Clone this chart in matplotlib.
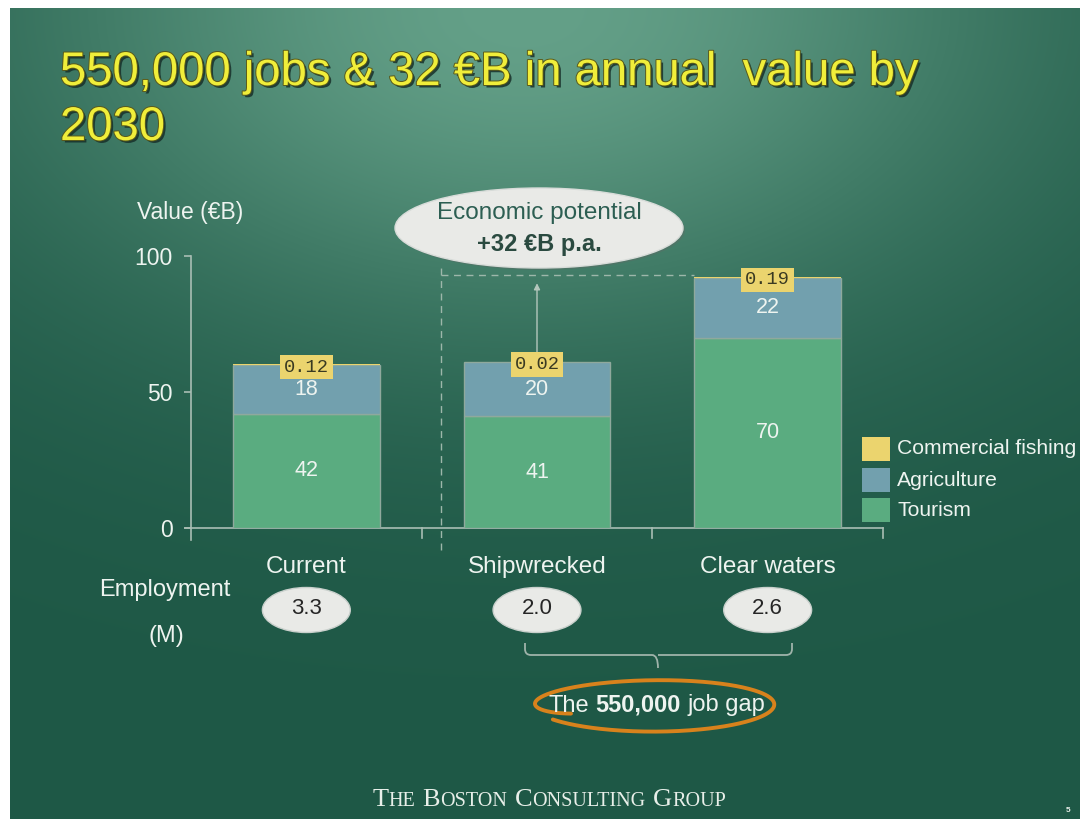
import numpy as np
import matplotlib
matplotlib.use('Agg')
import matplotlib.pyplot as plt
from matplotlib.patches import Ellipse, Rectangle
from matplotlib.path import Path
from matplotlib.patches import PathPatch
import matplotlib.patheffects as pe
import matplotlib.transforms as mtransforms
from matplotlib.offsetbox import TextArea, HPacker, AnnotationBbox

# ---------------- data ----------------
categories = ['Current', 'Shipwrecked', 'Clear waters']
tourism = [42, 41, 70]
agriculture = [18, 20, 22]
fishing = [0.12, 0.02, 0.19]
employment = [3.3, 2.0, 2.6]
yticks = [0, 50, 100]
series_names = ['Commercial fishing', 'Agriculture', 'Tourism']

title_lines = ['550,000 jobs & 32 \u20acB in annual  value by', '2030']

# ---------------- style ----------------
FONT = 'Liberation Sans'
plt.rcParams['font.family'] = [FONT, 'DejaVu Sans']
C_TOUR = '#5aac80'
C_AGRI = '#72a0ae'
C_FISH = '#ebd46e'
C_EDGE = '#8fa99d'
C_TXT = '#eef4f0'
C_AXIS = '#a9beb4'

W, H = 1080, 819
fig = plt.figure(figsize=(W / 100, H / 100), dpi=100)
fig.patch.set_facecolor('white')

# background gradient (slide)
bg = fig.add_axes([0, 0, 1, 1], zorder=0)
bg.set_axis_off()
nx, ny = 540, 410
xx, yy = np.meshgrid(np.linspace(0, 1, nx), np.linspace(0, 1, ny))
w = np.exp(-((xx - 0.48) / 0.48) ** 2 - (yy / 0.40) ** 2)
D = np.array([30, 88, 70]) / 255
L = np.array([100, 160, 136]) / 255
img = D + w[..., None] * (L - D)
bg.imshow(img, extent=[10, W, H, 8], aspect='auto', origin='upper', interpolation='bilinear')
bg.set_xlim(0, W)
bg.set_ylim(H, 0)

# overlay axes in pixel coordinates (y downwards)
ov = fig.add_axes([0, 0, 1, 1], zorder=3)
ov.set_xlim(0, W)
ov.set_ylim(H, 0)
ov.set_axis_off()
ov.patch.set_alpha(0)

# main chart axes
ax = fig.add_axes([191 / W, 1 - 528 / H, (883 - 191) / W, 272 / H], zorder=2)
ax.patch.set_alpha(0)
x = np.arange(len(categories))
ax.set_xlim(-0.5, len(categories) - 0.5)
ax.set_ylim(0, 100)
for s in ax.spines.values():
    s.set_visible(False)

bw = 0.636
tour = np.array(tourism, dtype=float)
agri = np.array(agriculture, dtype=float)
fish = np.array(fishing, dtype=float)
ax.bar(x, tour, width=bw, color=C_TOUR, edgecolor=C_EDGE, linewidth=1, zorder=3)
ax.bar(x, agri, bottom=tour, width=bw, color=C_AGRI, edgecolor=C_EDGE, linewidth=1, zorder=3)
ax.bar(x, fish, bottom=tour + agri, width=bw, color=C_FISH, edgecolor='none', zorder=3)

# axis lines drawn by hand (extend slightly outside)
ax.plot([-0.5, -0.5], [-4.4, 100], color=C_AXIS, lw=1.2, clip_on=False, zorder=2)
ax.plot([-0.526, 2.5], [0, 0], color=C_AXIS, lw=1.2, clip_on=False, zorder=2)
for xt in [0.5, 1.5, 2.5]:
    ax.plot([xt, xt], [0, -3.5], color=C_AXIS, lw=1.2, clip_on=False, zorder=2)
ax.set_xticks([])
ax.set_yticks(yticks)
ax.set_yticklabels([str(v) for v in yticks])
ax.tick_params(axis='y', length=5, width=1.2, color=C_AXIS, labelcolor=C_TXT,
               labelsize=16.5, pad=8)

# segment labels
for i in range(len(categories)):
    ax.text(x[i], tour[i] / 2, f'{tourism[i]:g}', ha='center', va='center',
            color=C_TXT, fontsize=15.5, zorder=5)
    ax.text(x[i], tour[i] + agri[i] / 2, f'{agriculture[i]:g}', ha='center', va='center',
            color=C_TXT, fontsize=15.5, zorder=5)
    top = tour[i] + agri[i] + fish[i]
    ax.text(x[i], top - 1, f'{fishing[i]:.2f}', ha='center', va='center',
            color='#3a3a22', fontsize=13.5, family='Liberation Mono', zorder=6,
            bbox=dict(boxstyle='square,pad=0.2', fc=C_FISH, ec='none'))

# dashed guide lines and growth arrow
xd = -0.5 + (441 - 191) / ((883 - 191) / 3)
ax.plot([xd, xd], [-8, 97.5], color='#9db7aa', lw=1, ls=(0, (5, 4)), clip_on=False, zorder=1)
ax.plot([xd, x[2] - bw / 2], [93, 93], color='#9db7aa', lw=1, ls=(0, (5, 4)), clip_on=False, zorder=1)
tot = tour + agri + fish
ax.annotate('', xy=(x[1], 91), xytext=(x[1], tot[1] + 0.5),
            arrowprops=dict(arrowstyle='-|>', color='#b4c7bd', lw=1, mutation_scale=9),
            zorder=4)

# y axis title
ov.text(137, 213, 'Value (\u20acB)', ha='left', va='center', color=C_TXT, fontsize=16.5)

# economic potential bubble
ov.add_patch(Ellipse((541, 230), 288, 80, fc='#5a6e66', ec='none', alpha=0.5, zorder=1))
ov.add_patch(Ellipse((539, 228), 288, 80, fc='#e9eae7', ec='#d8dcd9', lw=1, zorder=2))
ov.text(539, 213, 'Economic potential', ha='center', va='center', color='#2c5e52',
        fontsize=17.5, zorder=3)
ov.text(539, 244, '+32 \u20acB p.a.', ha='center', va='center', color='#2a4a40',
        fontsize=17, fontweight='bold', zorder=3)

# title
shadow = [pe.SimplePatchShadow(offset=(1.8, -1.8), shadow_rgbFace='#18302a', alpha=0.85),
          pe.Stroke(linewidth=1.4, foreground='#5a5a1a'), pe.Normal()]
ov.text(60, 85, title_lines[0], ha='left', va='baseline', color='#f0ee3a', fontsize=34,
        path_effects=shadow)
ov.text(60, 140, title_lines[1], ha='left', va='baseline', color='#f0ee3a', fontsize=34,
        path_effects=shadow)

# category labels + employment bubbles (x from the chart scale, y in pixels)
blend = mtransforms.blended_transform_factory(ax.transData, ov.transData)
for i, cat in enumerate(categories):
    ov.text(x[i], 567, cat, transform=blend, ha='center', va='center', color=C_TXT, fontsize=17.5)
    ov.add_patch(Ellipse((x[i], 610), 0.381, 45, transform=blend, fc='#e9eae7',
                         ec='#c9d0cc', lw=1, zorder=2))
    ov.text(x[i], 609, f'{employment[i]:.1f}', transform=blend, ha='center', va='center',
            color='#262626', fontsize=16, zorder=3)

ov.text(165, 590, 'Employment', ha='center', va='center', color=C_TXT, fontsize=17)
ov.text(166, 636, '(M)', ha='center', va='center', color=C_TXT, fontsize=17)

# legend (manual)
leg_y = [449, 480, 510]
leg_c = [C_FISH, C_AGRI, C_TOUR]
for name, yc, cc in zip(series_names, leg_y, leg_c):
    ov.add_patch(Rectangle((862, yc - 12), 28, 24, fc=cc, ec='none'))
    ov.text(897, yc, name, ha='left', va='center', color=C_TXT, fontsize=15.2)

# brace
bx0, bx1, bxm, byt, byl, byb = 525, 792, 658, 643, 655, 668
verts = [(bx0, byt), (bx0, byl - 6), (bx0, byl), (bx0 + 6, byl),
         (bxm - 6, byl), (bxm, byl), (bxm, byb),
         (bxm, byl), (bxm + 6, byl),
         (bx1 - 6, byl), (bx1, byl), (bx1, byl - 6), (bx1, byt)]
codes = [Path.MOVETO, Path.LINETO, Path.CURVE3, Path.CURVE3,
         Path.LINETO, Path.CURVE3, Path.CURVE3,
         Path.MOVETO, Path.LINETO,
         Path.LINETO, Path.CURVE3, Path.CURVE3, Path.LINETO]
ov.add_patch(PathPatch(Path(verts, codes), fc='none', ec='#9fb3aa', lw=1.3))

# job gap text
ta = [TextArea('The', textprops=dict(color=C_TXT, fontsize=17)),
      TextArea('550,000', textprops=dict(color=C_TXT, fontsize=17, fontweight='bold')),
      TextArea('job gap', textprops=dict(color=C_TXT, fontsize=17))]
hp = HPacker(children=ta, sep=4.5, pad=0, align='baseline')
ov.add_artist(AnnotationBbox(hp, (657, 705), xycoords='data', frameon=False,
                             box_alignment=(0.5, 0.5), zorder=4))

# hand-drawn orange ellipse (starts inside under "The", loops once around)
t = np.linspace(1.22 * np.pi, -0.82 * np.pi, 400)
prog = (t[0] - t) / (t[0] - t[-1])
rx = 121 + 3 * np.sin(2 * np.pi * prog) - 12 * np.exp(-prog / 0.08)
ry = 24.5 - 11 * np.exp(-prog / 0.12) + 2.5 * prog
ex = 655 + rx * np.cos(t)
ey = 705 - ry * np.sin(t)
ov.plot(ex, ey, color='#d8821c', lw=2.8, solid_capstyle='round', zorder=3)

# footer logo (small caps)
def word(first, rest):
    return HPacker(children=[TextArea(first, textprops=dict(family='Liberation Serif', fontsize=19, color='#e8efe9')),
                             TextArea(rest, textprops=dict(family='Liberation Serif', fontsize=14.5, color='#e8efe9'))],
                   sep=0, pad=0, align='baseline')
logo = HPacker(children=[word('T', 'HE'), word('B', 'OSTON'), word('C', 'ONSULTING'), word('G', 'ROUP')],
               sep=5.5, pad=0, align='baseline')
ov.add_artist(AnnotationBbox(logo, (549, 800), xycoords='data', frameon=False,
                             box_alignment=(0.5, 0.5)))
ov.text(1068, 811, '5', ha='center', va='center', color='#e8efe9', fontsize=6, fontweight='bold')

fig.savefig('out.png', dpi=100, facecolor=fig.get_facecolor())
